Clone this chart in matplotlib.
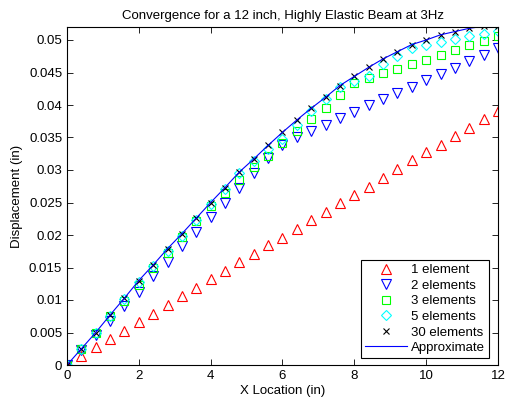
import numpy as np
import matplotlib
matplotlib.use('Agg')
import matplotlib.pyplot as plt
from matplotlib.ticker import FuncFormatter

plt.rcParams['font.family'] = ['Liberation Sans', 'DejaVu Sans']

# node positions along the beam (in)
x_loc = [0.0, 0.4, 0.8, 1.2, 1.6, 2.0, 2.4, 2.8, 3.2, 3.6, 4.0, 4.4, 4.8, 5.2, 5.6, 6.0,
         6.4, 6.8, 7.2, 7.6, 8.0, 8.4, 8.8, 9.2, 9.6, 10.0, 10.4, 10.8, 11.2, 11.6, 12.0]

# displacement (in) for each mesh
disp_1 = [0, 0.0014, 0.0027, 0.0040, 0.0053, 0.0066, 0.0079, 0.0093, 0.0106, 0.0119, 0.0132,
          0.0145, 0.0158, 0.0171, 0.0184, 0.0196, 0.0209, 0.0223, 0.0236, 0.0249, 0.0262,
          0.0274, 0.0288, 0.0301, 0.0315, 0.0327, 0.0339, 0.0352, 0.0365, 0.0379, 0.0391]
disp_2 = [0, 0.0023, 0.0046, 0.0068, 0.0091, 0.0113, 0.0137, 0.0159, 0.0183, 0.0205, 0.0228,
          0.0250, 0.0273, 0.0296, 0.0318, 0.0339, 0.0351, 0.0360, 0.0370, 0.0380, 0.0389,
          0.0400, 0.0409, 0.0418, 0.0428, 0.0438, 0.0447, 0.0457, 0.0468, 0.0477, 0.0487]
disp_3 = [0, 0.0024, 0.0049, 0.0075, 0.0099, 0.0123, 0.0149, 0.0172, 0.0197, 0.0221, 0.0245,
          0.0265, 0.0284, 0.0304, 0.0321, 0.0341, 0.0360, 0.0378, 0.0396, 0.0415, 0.0434,
          0.0441, 0.0449, 0.0456, 0.0463, 0.0470, 0.0477, 0.0484, 0.0492, 0.0499, 0.0506]
disp_5 = [0, 0.0024, 0.0049, 0.0075, 0.0101, 0.0127, 0.0153, 0.0176, 0.0199, 0.0223, 0.0247,
          0.0271, 0.0295, 0.0314, 0.0333, 0.0348, 0.0370, 0.0391, 0.0410, 0.0427, 0.0437,
          0.0444, 0.0463, 0.0475, 0.0488, 0.0492, 0.0497, 0.0501, 0.0506, 0.0510, 0.0514]
disp_30 = [0, 0.0025, 0.0050, 0.0077, 0.0103, 0.0130, 0.0154, 0.0179, 0.0202, 0.0226, 0.0250,
           0.0273, 0.0297, 0.0317, 0.0338, 0.0358, 0.0377, 0.0395, 0.0412, 0.0430, 0.0444,
           0.0458, 0.0471, 0.0482, 0.0493, 0.0500, 0.0508, 0.0513, 0.0518, 0.0521, 0.0521]
disp_approx = disp_30

fs = 9.5

fig = plt.figure(figsize=(5.10, 4.07), dpi=100)
ax = fig.add_axes([67/510, 1 - 365/407, 431/510, 338/407])

ms = 7
ax.plot(x_loc, disp_1, '^', color=(1, 0, 0), mfc='none', ms=ms, mew=0.8, label='1 element')
ax.plot(x_loc, disp_2, 'v', color=(0, 0, 1), mfc='none', ms=ms, mew=0.8, label='2 elements')
ax.plot(x_loc, disp_3, 's', color=(0, 1, 0), mfc='none', ms=6, mew=0.8, label='3 elements')
ax.plot(x_loc, disp_5, 'D', color=(0, 1, 1), mfc='none', ms=5.5, mew=0.8, label='5 elements')
ax.plot(x_loc, disp_30, 'x', color='k', ms=4.5, mew=0.8, label='30 elements')
ax.plot(x_loc, disp_approx, '-', color=(0, 0, 1), lw=0.8, label='Approximate')

ax.set_xlim(0, 12)
ax.set_ylim(0, 0.052)
ax.set_xticks(np.arange(0, 13, 2))
ax.set_yticks(np.arange(0, 0.0501, 0.005))
ax.yaxis.set_major_formatter(FuncFormatter(lambda v, p: '%g' % round(v, 4)))
ax.tick_params(direction='in', top=True, right=True, length=4, width=0.6, labelsize=fs)
for s in ax.spines.values():
    s.set_linewidth(0.8)

ax.set_title('Convergence for a 12 inch, Highly Elastic Beam at 3Hz', fontsize=fs)
ax.set_xlabel('X Location (in)', fontsize=fs, labelpad=2)
ax.set_ylabel('Displacement (in)', fontsize=fs)

leg = ax.legend(loc='lower right', bbox_to_anchor=(489/510, 1 - 358/407),
                bbox_transform=fig.transFigure, fontsize=fs, handlelength=3.2,
                handletextpad=0.3, labelspacing=0.25, borderpad=0.3, borderaxespad=0,
                fancybox=False, edgecolor='k', framealpha=1)
leg.get_frame().set_linewidth(0.8)

fig.savefig('out.png', dpi=100)
